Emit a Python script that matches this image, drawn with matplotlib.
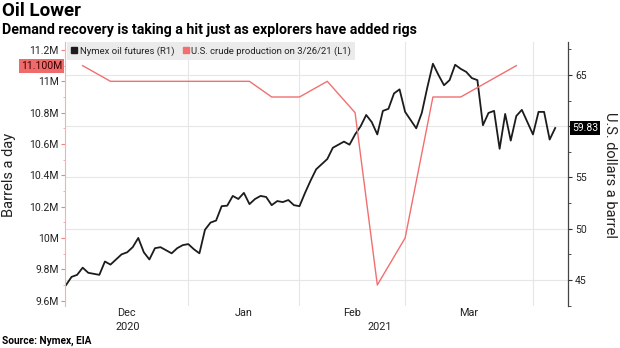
import pandas as pd
import matplotlib
matplotlib.use('Agg')
import matplotlib.pyplot as plt
import matplotlib.transforms as mtransforms
from matplotlib.ticker import MultipleLocator, FuncFormatter
from matplotlib.lines import Line2D

plt.rcParams['font.family'] = ['Roboto', 'DejaVu Sans']

# Nymex oil futures (USD a barrel), one point per business day shown on the chart
oil_start = '2020-12-01'
oil_end = '2021-04-06'
oil_skip = ['2021-01-18', '2021-02-15']   # no points on these holidays
oil_price = [44.5, 45.3, 45.5, 46.2, 45.7, 45.6, 45.5, 46.8, 46.5, 47.0,
             47.5, 47.7, 48.2, 49.1, 47.7, 47.0, 48.1, 48.2, 47.9, 47.6,
             48.1, 48.4, 48.5, 48.0, 47.6, 49.9, 50.6, 50.8, 52.2, 52.25,
             53.2, 52.9, 53.5, 52.4, 52.9, 53.2, 53.1, 52.3, 52.7, 52.6,
             52.8, 52.3, 52.2, 53.5, 54.7, 55.8, 56.3, 56.8, 57.9, 58.2,
             58.5, 58.2, 59.2, 60.0, 61.1, 60.4, 59.2, 61.5, 61.7, 63.2,
             63.6, 61.4, 60.6, 59.8, 61.3, 63.8, 66.1, 65.0, 64.0, 64.5,
             66.0, 65.6, 65.3, 64.7, 64.5, 60.1, 61.3, 61.5, 57.8, 61.2,
             58.6, 61.0, 61.6, 60.4, 59.2, 61.4, 61.4, 58.7, 59.83]

# U.S. crude production (million barrels a day), weekly
prod_start = '2020-12-04'
prod_end = '2021-03-26'
prod_values = [11.1, 11.0, 11.0, 11.0, 11.0, 11.0, 11.0, 10.9, 10.9,
               11.0, 10.8, 9.7, 10.0, 10.9, 10.9, 11.0, 11.1]

left_ticks = [9.6, 9.8, 10.0, 10.2, 10.4, 10.6, 10.8, 11.0, 11.2]
right_ticks = [45, 50, 55, 60, 65]
month_names = ['Dec', 'Jan', 'Feb', 'Mar']
year_names = ['2020', '2021']
prod_last_label = '11.100M'
oil_last_label = '59.83'

title = 'Oil Lower'
subtitle = 'Demand recovery is taking a hit just as explorers have added rigs'
source = 'Source: Nymex, EIA'

RED = '#f26f6f'
BLACK = '#1c1c1c'
GRID = '#e6e6e6'

oil_dates = pd.bdate_range(oil_start, oil_end)
oil_dates = oil_dates.drop(pd.to_datetime(oil_skip))
x_oil = list(range(len(oil_dates)))
prod_dates = pd.date_range(prod_start, prod_end, freq='W-FRI')
x_prod = oil_dates.get_indexer(prod_dates)

pos = pd.Series(x_oil, index=oil_dates)
month_end = pos.groupby(oil_dates.to_period('M')).max().values[:4]

fig = plt.figure(figsize=(6.2, 3.48), dpi=100)
ax = fig.add_axes([65 / 620, 1 - 306 / 348, 503 / 620, 264 / 348])
ax2 = ax.twinx()

xlim = (-0.18, 90.3)
ax.set_xlim(xlim)

# oil on ax (ticks right), production on ax2 (ticks left)
ax.plot(x_oil, oil_price, color=BLACK, lw=1.3, zorder=3)
ax.set_ylim(42.46, 68.22)
ax.yaxis.tick_right()
ax.set_yticks(right_ticks)


def right_fmt(v, p):
    # the last-value box sits over the 60 label
    if abs(v - oil_price[-1]) < 2.5:
        return ''
    return f'{v:g}'


ax.yaxis.set_major_formatter(FuncFormatter(right_fmt))
ax.yaxis.set_minor_locator(MultipleLocator(2.5))
ax.tick_params(axis='y', which='major', length=3, width=0.8, color='#333333',
               labelsize=7.5, labelcolor='#222222', pad=2)
ax.tick_params(axis='y', which='minor', length=2, width=0.6, color='#333333')
ax.set_xticks([])
for y in right_ticks:
    ax.axhline(y, color=GRID, lw=0.8, zorder=0)
for m in month_end:
    ax.axvline(m, color=GRID, lw=0.8, zorder=0)
for s in ['top', 'bottom', 'left']:
    ax.spines[s].set_visible(False)
ax.spines['right'].set_color('#444444')
ax.spines['right'].set_linewidth(0.9)

ax2.plot(x_prod, prod_values, color=RED, lw=1.0, zorder=2)
ax2.set_ylim(9.566, 11.251)
ax2.yaxis.tick_left()
ax2.set_yticks(left_ticks)
ax2.yaxis.set_major_formatter(FuncFormatter(lambda v, p: f'{v:g}M'))
ax2.yaxis.set_minor_locator(MultipleLocator(0.1))
ax2.tick_params(axis='y', which='major', length=3, width=0.8, color='#f08080',
                labelsize=7.5, labelcolor='#222222', pad=1.5)
ax2.tick_params(axis='y', which='minor', length=1.5, width=0.6, color='#f4a0a0')
for s in ['top', 'bottom', 'right']:
    ax2.spines[s].set_visible(False)
ax2.spines['left'].set_color('#f6b0b0')
ax2.spines['left'].set_linewidth(0.8)

# last value labels
tl = mtransforms.blended_transform_factory(ax2.transAxes, ax2.transData)
ax2.text(-0.006, prod_values[-1], prod_last_label, transform=tl, ha='right',
         va='center', fontsize=7.5, color='#3a0000',
         bbox=dict(boxstyle='square,pad=0.2', fc='#ef6a6a', ec='none'))
tr = mtransforms.blended_transform_factory(ax.transAxes, ax.transData)
ax.text(1.008, oil_price[-1], oil_last_label, transform=tr, ha='left',
        va='center', fontsize=7.5, color='white',
        bbox=dict(boxstyle='square,pad=0.2', fc='black', ec='none'))

# month and year labels
tx = mtransforms.blended_transform_factory(ax.transData, fig.transFigure)
bounds = [xlim[0]] + list(month_end)
for i, name in enumerate(month_names):
    ax.text((bounds[i] + bounds[i + 1]) / 2, 1 - 313 / 348, name, transform=tx,
            ha='center', va='center', fontsize=7.8, color='#222222')
year_split = month_end[0] + 0.5
ax.text((xlim[0] + year_split) / 2, 1 - 327 / 348, year_names[0], transform=tx,
        ha='center', va='center', fontsize=7.8, color='#222222')
ax.text((year_split + xlim[1]) / 2, 1 - 327 / 348, year_names[1], transform=tx,
        ha='center', va='center', fontsize=7.8, color='#222222')

# legend
handles = [Line2D([], [], marker='s', ls='none', color=BLACK, ms=4.5),
           Line2D([], [], marker='s', ls='none', color=RED, ms=4.5)]
labels = ['Nymex oil futures (R1)', 'U.S. crude production on 3/26/21 (L1)']
leg = ax2.legend(handles, labels, loc='upper left', bbox_to_anchor=(0.004, 1.0),
                 ncol=2, frameon=True, fancybox=False, facecolor='#ebebeb',
                 edgecolor='none', framealpha=1, fontsize=6.8, handlelength=0.6,
                 handletextpad=0.3, columnspacing=0.9, borderpad=0.45,
                 borderaxespad=0)
for t in leg.get_texts():
    t.set_color('#222222')

fig.text(9 / 620, 1 - 175 / 348, 'Barrels a day', rotation=90, ha='center',
         va='center', fontsize=10.5, color='#222222')
fig.text(610 / 620, 1 - 175 / 348, 'U.S. dollars a barrel', rotation=270,
         ha='center', va='center', fontsize=10.5, color='#222222')

fig.text(0.004, 1 - 2 / 348, title, ha='left', va='top', fontsize=13.5,
         fontweight='bold', color='black')
fig.text(0.004, 1 - 23 / 348, subtitle, ha='left', va='top', fontsize=10.2,
         fontweight='bold', color='black')
fig.text(0.004, 1 - 341 / 348, source, ha='left', va='center', fontsize=7.3,
         fontweight='bold', color='black')

fig.savefig('out.png', dpi=100)
